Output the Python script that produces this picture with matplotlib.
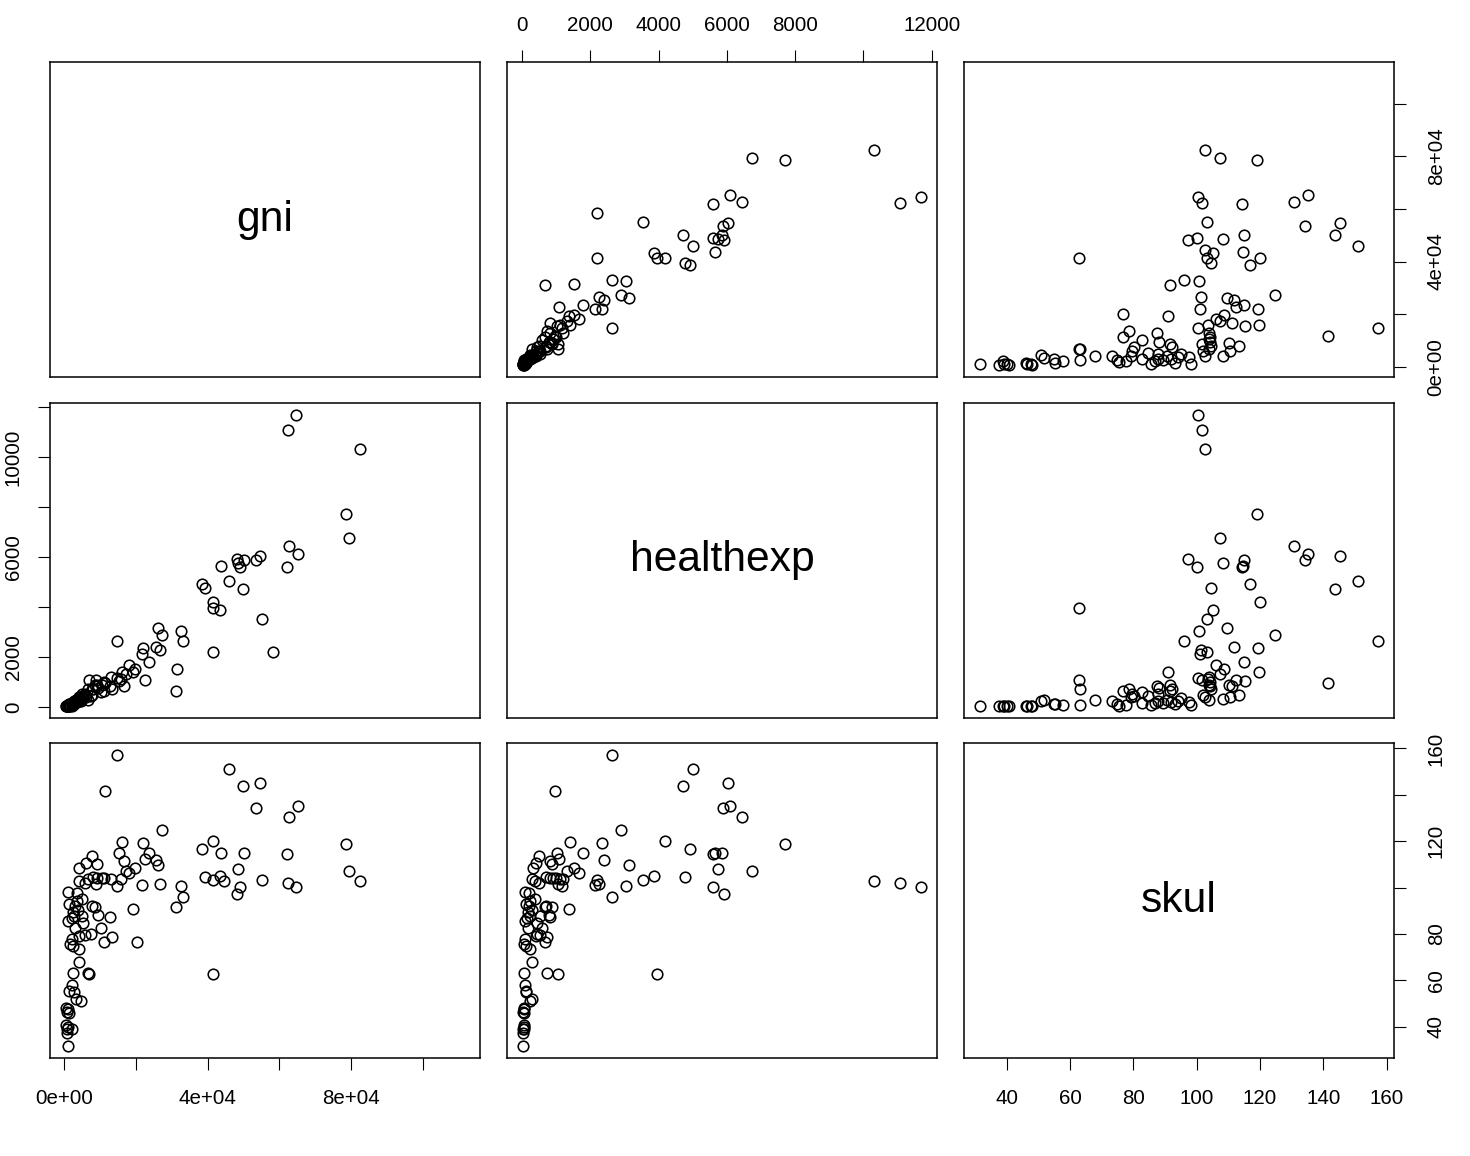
import numpy as np
import matplotlib.pyplot as plt

plt.rcParams['font.family'] = ['Liberation Sans', 'DejaVu Sans']

nan = np.nan
names = ['gni', 'healthexp', 'skul']

gni = [14660, 45940, 54660, 49930, 11510, 65150, 53550, 62550, 27190, 41390,
       16050, 21990, 78500, 38510, 15310, 50020, 23570, 43710, 61990, 7890,
       22550, 25520, 16700, 6030, 9090, 26260, 19770, 4270, 48530, 79440,
       17260, 18190, 43340, 39350, 9280, 7980, 12990, 6770, 15870, 41480,
       55120, 82310, 4080, 44540, 5850, 62360, 8820, 26630, 21810, 32480,
       14660, 64680, 48910, 1210, 3530, 48070, 33040, 4920, 1490, 7700,
       3060, 8630, 31090, 19210, 3990, 9560, 2780, 4920, 12810, 2130,
       1210, 5380, 10300, 3060, 7520, 5850, 4270, 13460, 2130, 11140,
       20230, 1670, 2410, 4180, 4180, 2410, 6590, 6870, 41390, 2320,
       1390, 2880, 3340, 4640, 550, 1210, 1490, 600, 930, 2130,
       740, 1110, 58310, 31390, 111400,
       10500, 11200, 3600, 2500, 1100, 900]

healthexp = [2637, 5020, 6020, 4730, 963, 6100, 5890, 6430, 2900, 4200,
             1420, 2345, 7700, 4920, 1032, 5860, 1790, 5640, 5600, 496,
             1100, 2413, 837, 399, 876, 3143, 1518, 321, 5750, 6743,
             1314, 1683, 3873, 4777, 827, 710, 1216, 292, 1119, 2189,
             3532, 10294, 389, nan, 486, 11063, 1070, 2267, 2141, 3055,
             1168, 11686, 5585, 97, 195, 5926, 2646, 370, 126, 710,
             195, 876, 662, 1391, 292, 780, 243, 535, 827, 146,
             97, 438, 600, 165, 438, 540, 400, 730, 97, 662,
             nan, 49, 120, 224, 292, 68, 739, 1070, 3941, 97,
             117, 130, 292, 250, 49, 60, 49, 49, 40, 55,
             35, 30, 2189, 1537, nan,
             900, 1000, 250, 170, 60, 45]

skul = [157.3, 151.1, 145.2, 143.8, 141.6, 135.1, 134.2, 130.6, 124.6, 120.1,
        119.7, 119.4, 118.9, 116.7, 115.1, 115.0, 114.8, 114.7, 114.3, 113.4,
        112.4, 111.8, 111.3, 110.5, 110.3, 109.7, 108.5, 108.3, 108.2, 107.2,
        107.2, 106.2, 105.1, 104.5, 104.2, 104.5, 103.8, 103.8, 103.7, 103.4,
        103.2, 102.7, 102.7, 102.7, 101.9, 101.8, 101.6, 101.5, 100.9, 100.8,
        100.5, 100.4, 100.2, 98.1, 97.6, 97.1, 96.1, 95.1, 93.0, 92.2,
        91.9, 91.6, 91.5, 90.8, 90.5, 88.0, 87.9, 87.9, 87.3, 86.9,
        85.7, 84.7, 82.7, 82.6, 80.1, 79.4, 79.3, 78.6, 77.6, 76.6,
        76.6, 75.6, 74.7, 73.3, 68.0, 63.1, 63.1, 62.9, 62.7, 57.9,
        55.2, 54.9, 51.8, 50.9, 48.0, 47.7, 46.0, 40.6, 39.1, 38.9,
        37.4, 31.5, nan, nan, nan,
        104.0, 104.3, 94.0, 89.5, 40.0, 46.5]

# tick values and labels (R drops the overlapping ones)
gni_ticks = [0, 20000, 40000, 60000, 80000, 100000]
gni_labels = ['0e+00', '', '4e+04', '', '8e+04', '']
he_ticks = [0, 2000, 4000, 6000, 8000, 10000, 12000]
he_top_labels = ['0', '2000', '4000', '6000', '8000', '', '12000']
he_left_labels = ['0', '2000', '', '6000', '', '10000', '']
skul_ticks = [40, 60, 80, 100, 120, 140, 160]
skul_bottom_labels = ['40', '60', '80', '100', '120', '140', '160']
skul_right_labels = ['40', '60', '80', '', '120', '', '160']

data = [np.array(gni, float), np.array(healthexp, float), np.array(skul, float)]


def lim(v):
    lo, hi = np.nanmin(v), np.nanmax(v)
    r = hi - lo
    return lo - 0.04 * r, hi + 0.04 * r


W, H = 1470, 1156
lefts = [50, 507, 964]
tops = [62, 403, 743]
pw, ph = 430, 315

fig = plt.figure(figsize=(W / 100, H / 100), dpi=100)
tick_kw = dict(length=8.5, width=0.8, direction='out', labelsize=14.8, color='black')

for i in range(3):
    for j in range(3):
        ax = fig.add_axes([lefts[j] / W, 1 - (tops[i] + ph) / H, pw / W, ph / H])
        for s in ax.spines.values():
            s.set_linewidth(1.1)
            s.set_color('black')
        ax.set_xlim(lim(data[j]))
        ax.set_ylim(lim(data[i]))
        ax.set_xticks([])
        ax.set_yticks([])
        if i == j:
            ax.text(0.5, 0.5, names[i], transform=ax.transAxes, ha='center', va='center', fontsize=30.7)
        else:
            ax.plot(data[j], data[i], ls='none', marker='o', ms=7.6, mfc='none', mec='black', mew=1.15)

        if i == 0 and j == 1:
            ax.xaxis.tick_top()
            ax.set_xticks(he_ticks, he_top_labels)
            ax.tick_params(axis='x', pad=11, **tick_kw)
        if i == 0 and j == 2:
            ax.yaxis.tick_right()
            ax.set_yticks(gni_ticks, gni_labels)
            ax.tick_params(axis='y', labelrotation=90, pad=15, **tick_kw)
        if i == 1 and j == 0:
            ax.set_yticks(he_ticks, he_left_labels)
            ax.tick_params(axis='y', labelrotation=90, pad=11, **tick_kw)
        if i == 2 and j == 0:
            ax.set_xticks(gni_ticks, gni_labels)
            ax.tick_params(axis='x', pad=13.5, **tick_kw)
        if i == 2 and j == 2:
            ax.set_xticks(skul_ticks, skul_bottom_labels)
            ax.tick_params(axis='x', pad=13.5, **tick_kw)
            ax.yaxis.tick_right()
            ax.set_yticks(skul_ticks, skul_right_labels)
            ax.tick_params(axis='y', labelrotation=90, pad=15, **tick_kw)
        for lbl in ax.get_yticklabels():
            lbl.set_va('center')

fig.savefig('out.png', dpi=100)
